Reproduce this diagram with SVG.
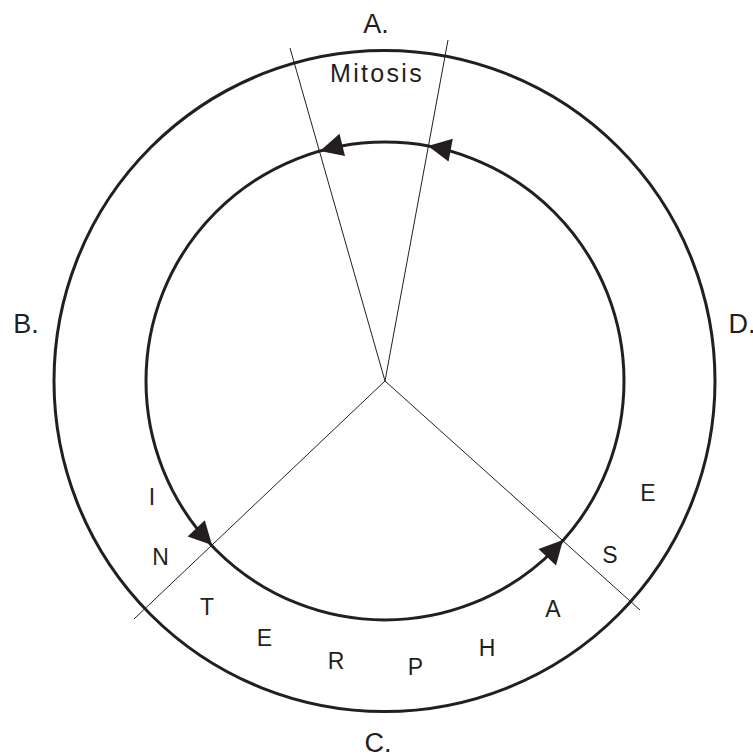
<svg xmlns="http://www.w3.org/2000/svg" width="753" height="756" viewBox="0 0 753 756">
<style>
.ring{fill:none;stroke:#231f20;stroke-width:3}
.ln{fill:none;stroke:#231f20;stroke-width:1}
.ah{fill:#231f20;stroke:none}
text{font-family:"Liberation Sans",Arial,sans-serif;fill:#231f20;text-anchor:middle}
.lab{font-size:27px}
.let{font-size:23px}
.mit{font-size:25px;letter-spacing:2.3px}
</style>
<rect width="753" height="756" fill="#fff"/>
<g id="outer-circle"><circle class="ring" cx="384.5" cy="381" r="330.5"/></g>
<g id="inner-circle"><circle class="ring" cx="385" cy="381" r="239"/></g>
<g id="connectors">
<line class="ln" x1="385" y1="381" x2="290" y2="48"/>
<line class="ln" x1="385" y1="381" x2="448" y2="40"/>
<line class="ln" x1="385" y1="381" x2="134" y2="619"/>
<line class="ln" x1="385" y1="381" x2="640" y2="610"/>
<polygon class="ah" points="320,151 339.5,133.8 345,156"/>
<polygon class="ah" points="428,146 452.8,138.8 448.5,161.5"/>
<polygon class="ah" points="212,545 204.8,520.2 187.6,536.5"/>
<polygon class="ah" points="563,540 538.5,549 556,565.5"/>
</g>
<g id="label-A"><text class="lab" x="376" y="33">A.</text></g>
<g id="label-B"><text class="lab" x="26" y="333">B.</text></g>
<g id="label-C"><text class="lab" x="378" y="752">C.</text></g>
<g id="label-D"><text class="lab" x="742" y="333">D.</text></g>
<g id="mitosis"><text class="mit" x="377" y="82">Mitosis</text></g>
<g id="interphase">
<text class="let" x="152" y="505">I</text>
<text class="let" x="160.5" y="565">N</text>
<text class="let" x="207" y="615">T</text>
<text class="let" x="264.5" y="646">E</text>
<text class="let" x="336" y="669">R</text>
<text class="let" x="415.5" y="675">P</text>
<text class="let" x="487" y="656">H</text>
<text class="let" x="553" y="617">A</text>
<text class="let" x="610" y="563">S</text>
<text class="let" x="648" y="501">E</text>
</g>
</svg>
